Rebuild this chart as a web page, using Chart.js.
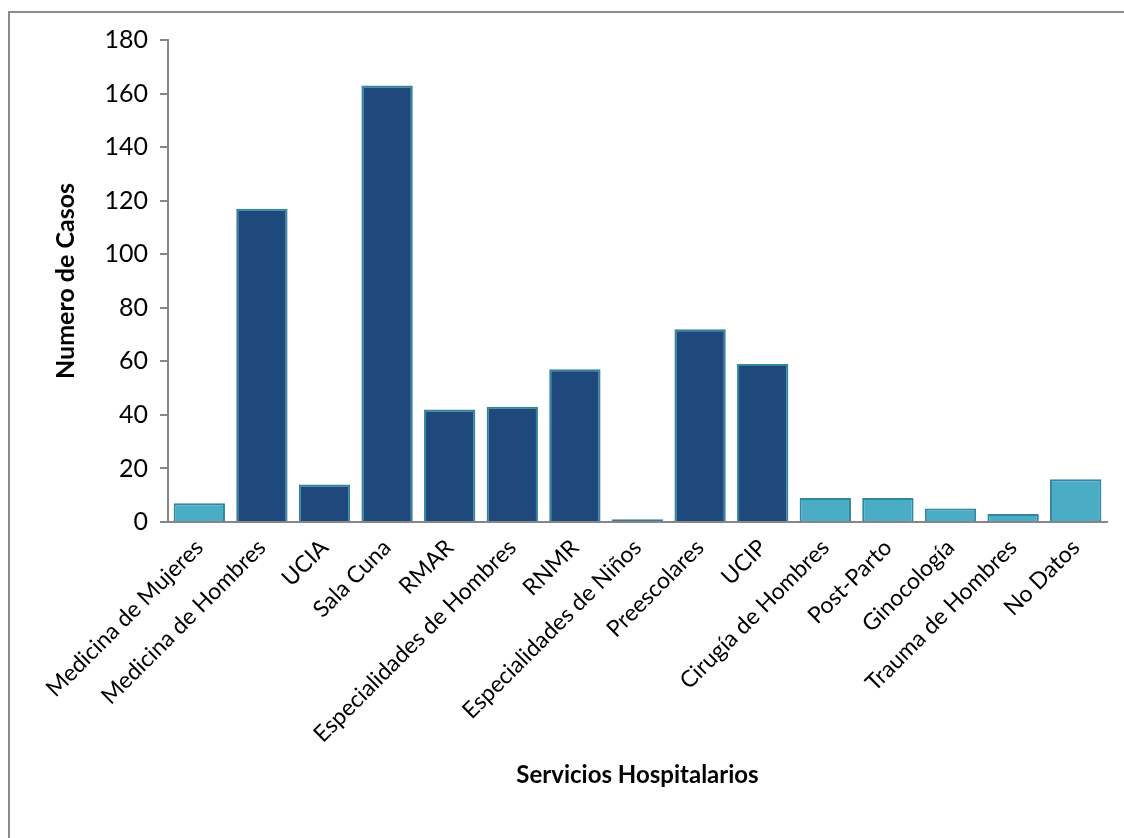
<!DOCTYPE html>
<html>
<head>
<meta charset="utf-8">
<script src="https://cdn.jsdelivr.net/npm/chart.js@4/dist/chart.umd.min.js"></script>
<style>
    html, body { margin: 0; padding: 0; background: #fff; overflow: hidden; }
    #wrap { position: relative; width: 1124px; height: 838px; }
    #marco { position: absolute; left: 8px; top: 11px; width: 1130px; height: 840px; border: 2px solid #8c8c8c; box-sizing: border-box; }
    canvas { position: absolute; left: 0; top: 0; }
</style>
</head>
<body>
<div id="wrap">
    <div id="marco"></div>
    <canvas id="grafico" width="1124" height="838"></canvas>
</div>
<script>
// Datos del gráfico
const servicios = [
    'Medicina de Mujeres', 'Medicina de Hombres', 'UCIA', 'Sala Cuna', 'RMAR',
    'Especialidades de Hombres', 'RNMR', 'Especialidades de Niños', 'Preescolares', 'UCIP',
    'Cirugía de Hombres', 'Post-Parto', 'Ginocología', 'Trauma de Hombres', 'No Datos'
];
const casos = [7, 117, 14, 163, 42, 43, 57, 1, 72, 59, 9, 9, 5, 3, 16];
const grupoOscuro = [false, true, true, true, true, true, true, true, true, true, false, false, false, false, false];
const yTicks = [0, 20, 40, 60, 80, 100, 120, 140, 160, 180];

const OSCURO = '#1f497d';
const CLARO = '#4bacc6';
const BORDE = '#31859c';
const EJE = '#868686';
const FUENTE = 'Lato, "Open Sans", sans-serif';

const ctx = document.getElementById('grafico').getContext('2d');

new Chart(ctx, {
    type: 'bar',
    data: {
        labels: servicios,
        datasets: [{
            label: 'Casos',
            data: casos,
            backgroundColor: grupoOscuro.map(o => o ? OSCURO : CLARO),
            borderColor: BORDE,
            borderWidth: 2,
            borderSkipped: 'bottom',
            categoryPercentage: 1,
            barPercentage: 0.82
        }]
    },
    options: {
        responsive: false,
        animation: false,
        layout: { padding: { left: 51, top: 40, right: 17, bottom: 48 } },
        plugins: {
            legend: { display: false },
            tooltip: { enabled: false }
        },
        scales: {
            x: {
                grid: { display: true, drawOnChartArea: false, drawTicks: false, color: EJE },
                border: { color: EJE, width: 2 },
                ticks: {
                    color: '#000',
                    font: { family: FUENTE, size: 23 },
                    maxRotation: 45,
                    minRotation: 45,
                    autoSkip: false,
                    padding: 12
                },
                title: {
                    display: true,
                    text: 'Servicios Hospitalarios',
                    color: '#000',
                    font: { family: FUENTE, size: 24, weight: 'bold' },
                    padding: { top: 0, bottom: 0 }
                },
                afterFit: s => {
                    s.height = 268;
                    s.paddingLeft = 0;
                    s.paddingRight = 0;
                }
            },
            y: {
                min: 0,
                max: 180,
                afterBuildTicks: s => { s.ticks = yTicks.map(v => ({ value: v })); },
                grid: { display: true, drawOnChartArea: false, drawTicks: true, tickLength: 8, color: EJE, lineWidth: 2 },
                border: { color: EJE, width: 2 },
                ticks: {
                    color: '#000',
                    font: { family: FUENTE, size: 25 },
                    padding: 12
                },
                title: {
                    display: true,
                    text: 'Numero de Casos',
                    color: '#000',
                    font: { family: FUENTE, size: 25, weight: 'bold' },
                    padding: { top: 0, bottom: 0 }
                },
                afterFit: s => { s.width = 117; }
            }
        }
    }
});
</script>
</body>
</html>
